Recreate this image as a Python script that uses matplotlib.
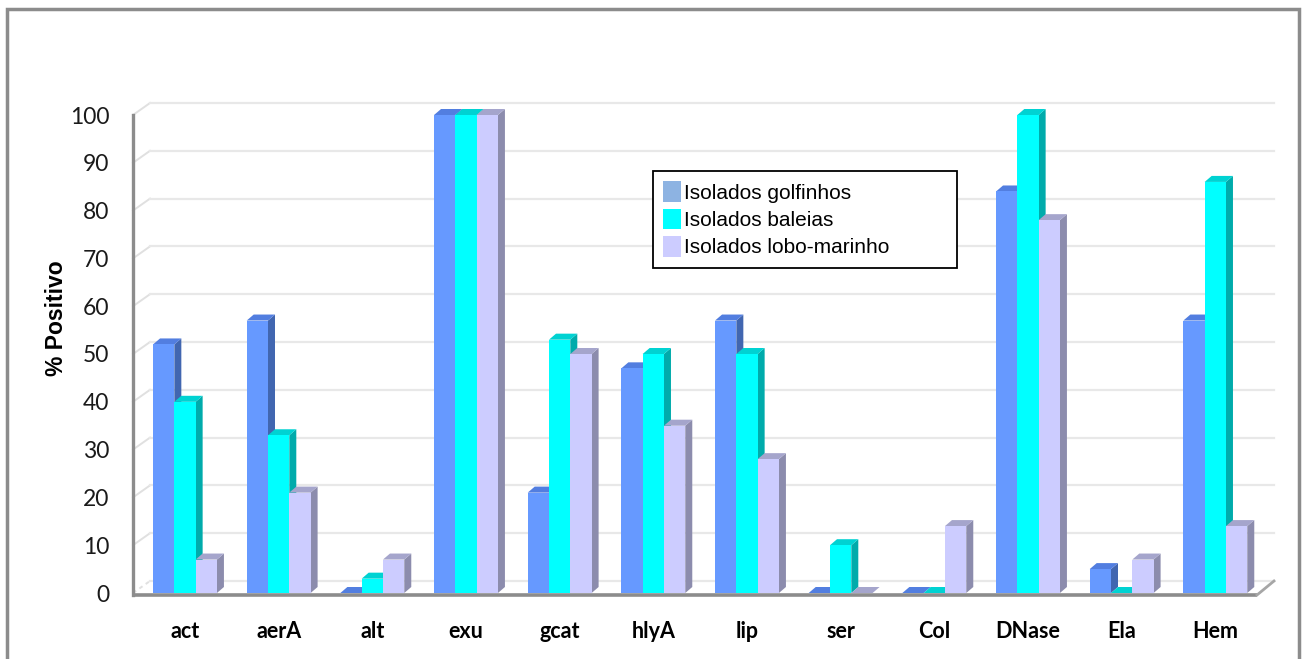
import numpy as np
import matplotlib
matplotlib.use("Agg")
import matplotlib.pyplot as plt
from matplotlib.patches import Polygon, Rectangle, Patch

# -------------------------------
# DATA
# -------------------------------
categories = ["act", "aerA", "alt", "exu", "gcat", "hlyA", "lip", "ser", "Col", "DNase", "Ela", "Hem"]
golfinhos = [52, 57, 0, 100, 21, 47, 57, 0, 0, 84, 5, 57]
baleias = [40, 33, 3, 100, 53, 50, 50, 10, 0, 100, 0, 86]
lobo_marinho = [7, 21, 7, 100, 50, 35, 28, 0, 14, 78, 7, 14]
series_names = ["Isolados golfinhos", "Isolados baleias", "Isolados lobo-marinho"]
yticks = list(range(0, 101, 10))

# front / side / top colours of the pseudo 3D bars
front_colors = ["#6699ff", "#00ffff", "#ccccff"]
side_colors = ["#4166b0", "#00abab", "#8c8cad"]
top_colors = ["#527ee0", "#00d2d2", "#a5a5cc"]
legend_colors = ["#8db3e2", "#00ffff", "#ccccff"]

# -------------------------------
# FIGURE / AXES (front plane of the 3D box)
# -------------------------------
W, H = 1302, 659
fig = plt.figure(figsize=(W / 100, H / 100), dpi=100)
left_px, right_px, base_px, top_px = 133, 1257, 593, 115
ax = fig.add_axes([left_px / W, (H - base_px) / H,
                   (right_px - left_px) / W, (base_px - top_px) / H])

n = len(categories)
xmin = -0.555
xmax = xmin + n
ax.set_xlim(xmin, xmax)
ax.set_ylim(0, 100)
for s in ax.spines.values():
    s.set_visible(False)

sx = (right_px - left_px) / n      # px per x unit
sy = (base_px - top_px) / 100      # px per y unit
fdx, fdy = 17 / sx, 12 / sy        # depth of the floor / walls
bdx, bdy = 7 / sx, 6 / sy          # depth of each bar
w = 21.3 / sx

# -------------------------------
# WALLS, GRID AND FLOOR
# -------------------------------
for v in yticks:
    ls = (0, (2, 2)) if v == 0 else "-"
    ax.plot([xmin, xmin + fdx], [v, v + fdy], color="#e0e0e0", lw=1.4, ls=ls, clip_on=False, zorder=1)
    ax.plot([xmin + fdx, xmax + fdx], [v + fdy, v + fdy], color="#e8e8e8", lw=1.6, clip_on=False, zorder=1)

y_floor = -2 / sy
ax.plot([xmin, xmax], [y_floor, y_floor], color="#8c8c8c", lw=2.6, clip_on=False, zorder=2,
        solid_capstyle="butt")
ax.plot([xmax, xmax + fdx], [y_floor, fdy], color="#a6a6a6", lw=2.0, clip_on=False, zorder=2)
ax.plot([xmin, xmin], [y_floor, 100], color="#8c8c8c", lw=2.4, clip_on=False, zorder=2)

# -------------------------------
# BARS
# -------------------------------
series = [golfinhos, baleias, lobo_marinho]
x = np.arange(n)
for j, vals in enumerate(series):
    xs = x + (j - 1) * w
    z = 3 + 2 * j
    ax.bar(xs, vals, width=w, color=front_colors[j], linewidth=0, zorder=z + 1, clip_on=False)
    for xc, v in zip(xs, vals):
        x0, x1 = xc - w / 2, xc + w / 2
        side = Polygon([(x1, 0), (x1 + bdx, bdy), (x1 + bdx, v + bdy), (x1, v)],
                       closed=True, facecolor=side_colors[j], edgecolor="none", zorder=z, clip_on=False)
        top = Polygon([(x0, v), (x1, v), (x1 + bdx, v + bdy), (x0 + bdx, v + bdy)],
                      closed=True, facecolor=top_colors[j], edgecolor="none", zorder=z, clip_on=False)
        ax.add_patch(side)
        ax.add_patch(top)

# -------------------------------
# TICKS AND LABELS
# -------------------------------
ax.set_yticks(yticks)
ax.set_yticklabels([str(t) for t in yticks], family="Lato", fontsize=16.5, color="#1a1a1a")
ax.tick_params(axis="y", length=0, pad=17)
ax.set_xticks(x)
ax.set_xticklabels(categories, family="Lato", fontweight="bold", fontsize=15.5, color="black")
ax.tick_params(axis="x", length=0, pad=20)

ax.set_ylabel("% Positivo", family="Liberation Sans", fontweight="bold", fontsize=16.5)
ax.yaxis.set_label_coords(-0.058, 0.575)

# -------------------------------
# LEGEND
# -------------------------------
handles = [Patch(facecolor=c, edgecolor="none") for c in legend_colors]
leg = fig.legend(handles, series_names, loc="upper left",
                 bbox_to_anchor=(653 / W, (H - 268) / H, 304 / W, 97 / H), mode="expand",
                 prop={"family": "Liberation Sans", "size": 15},
                 frameon=True, fancybox=False, framealpha=1, edgecolor="black",
                 handlelength=0.85, handleheight=1.15, handletextpad=0.12,
                 labelspacing=0.28, borderpad=0.5, borderaxespad=0)
leg.get_frame().set_linewidth(1.3)

# outer chart border
fig.add_artist(Rectangle((7 / W, -0.1), (1299 - 7) / W, (H - 9) / H + 0.1, transform=fig.transFigure,
                         fill=False, edgecolor="#8c8c8c", lw=2.5))

fig.savefig("out.png", dpi=100)
